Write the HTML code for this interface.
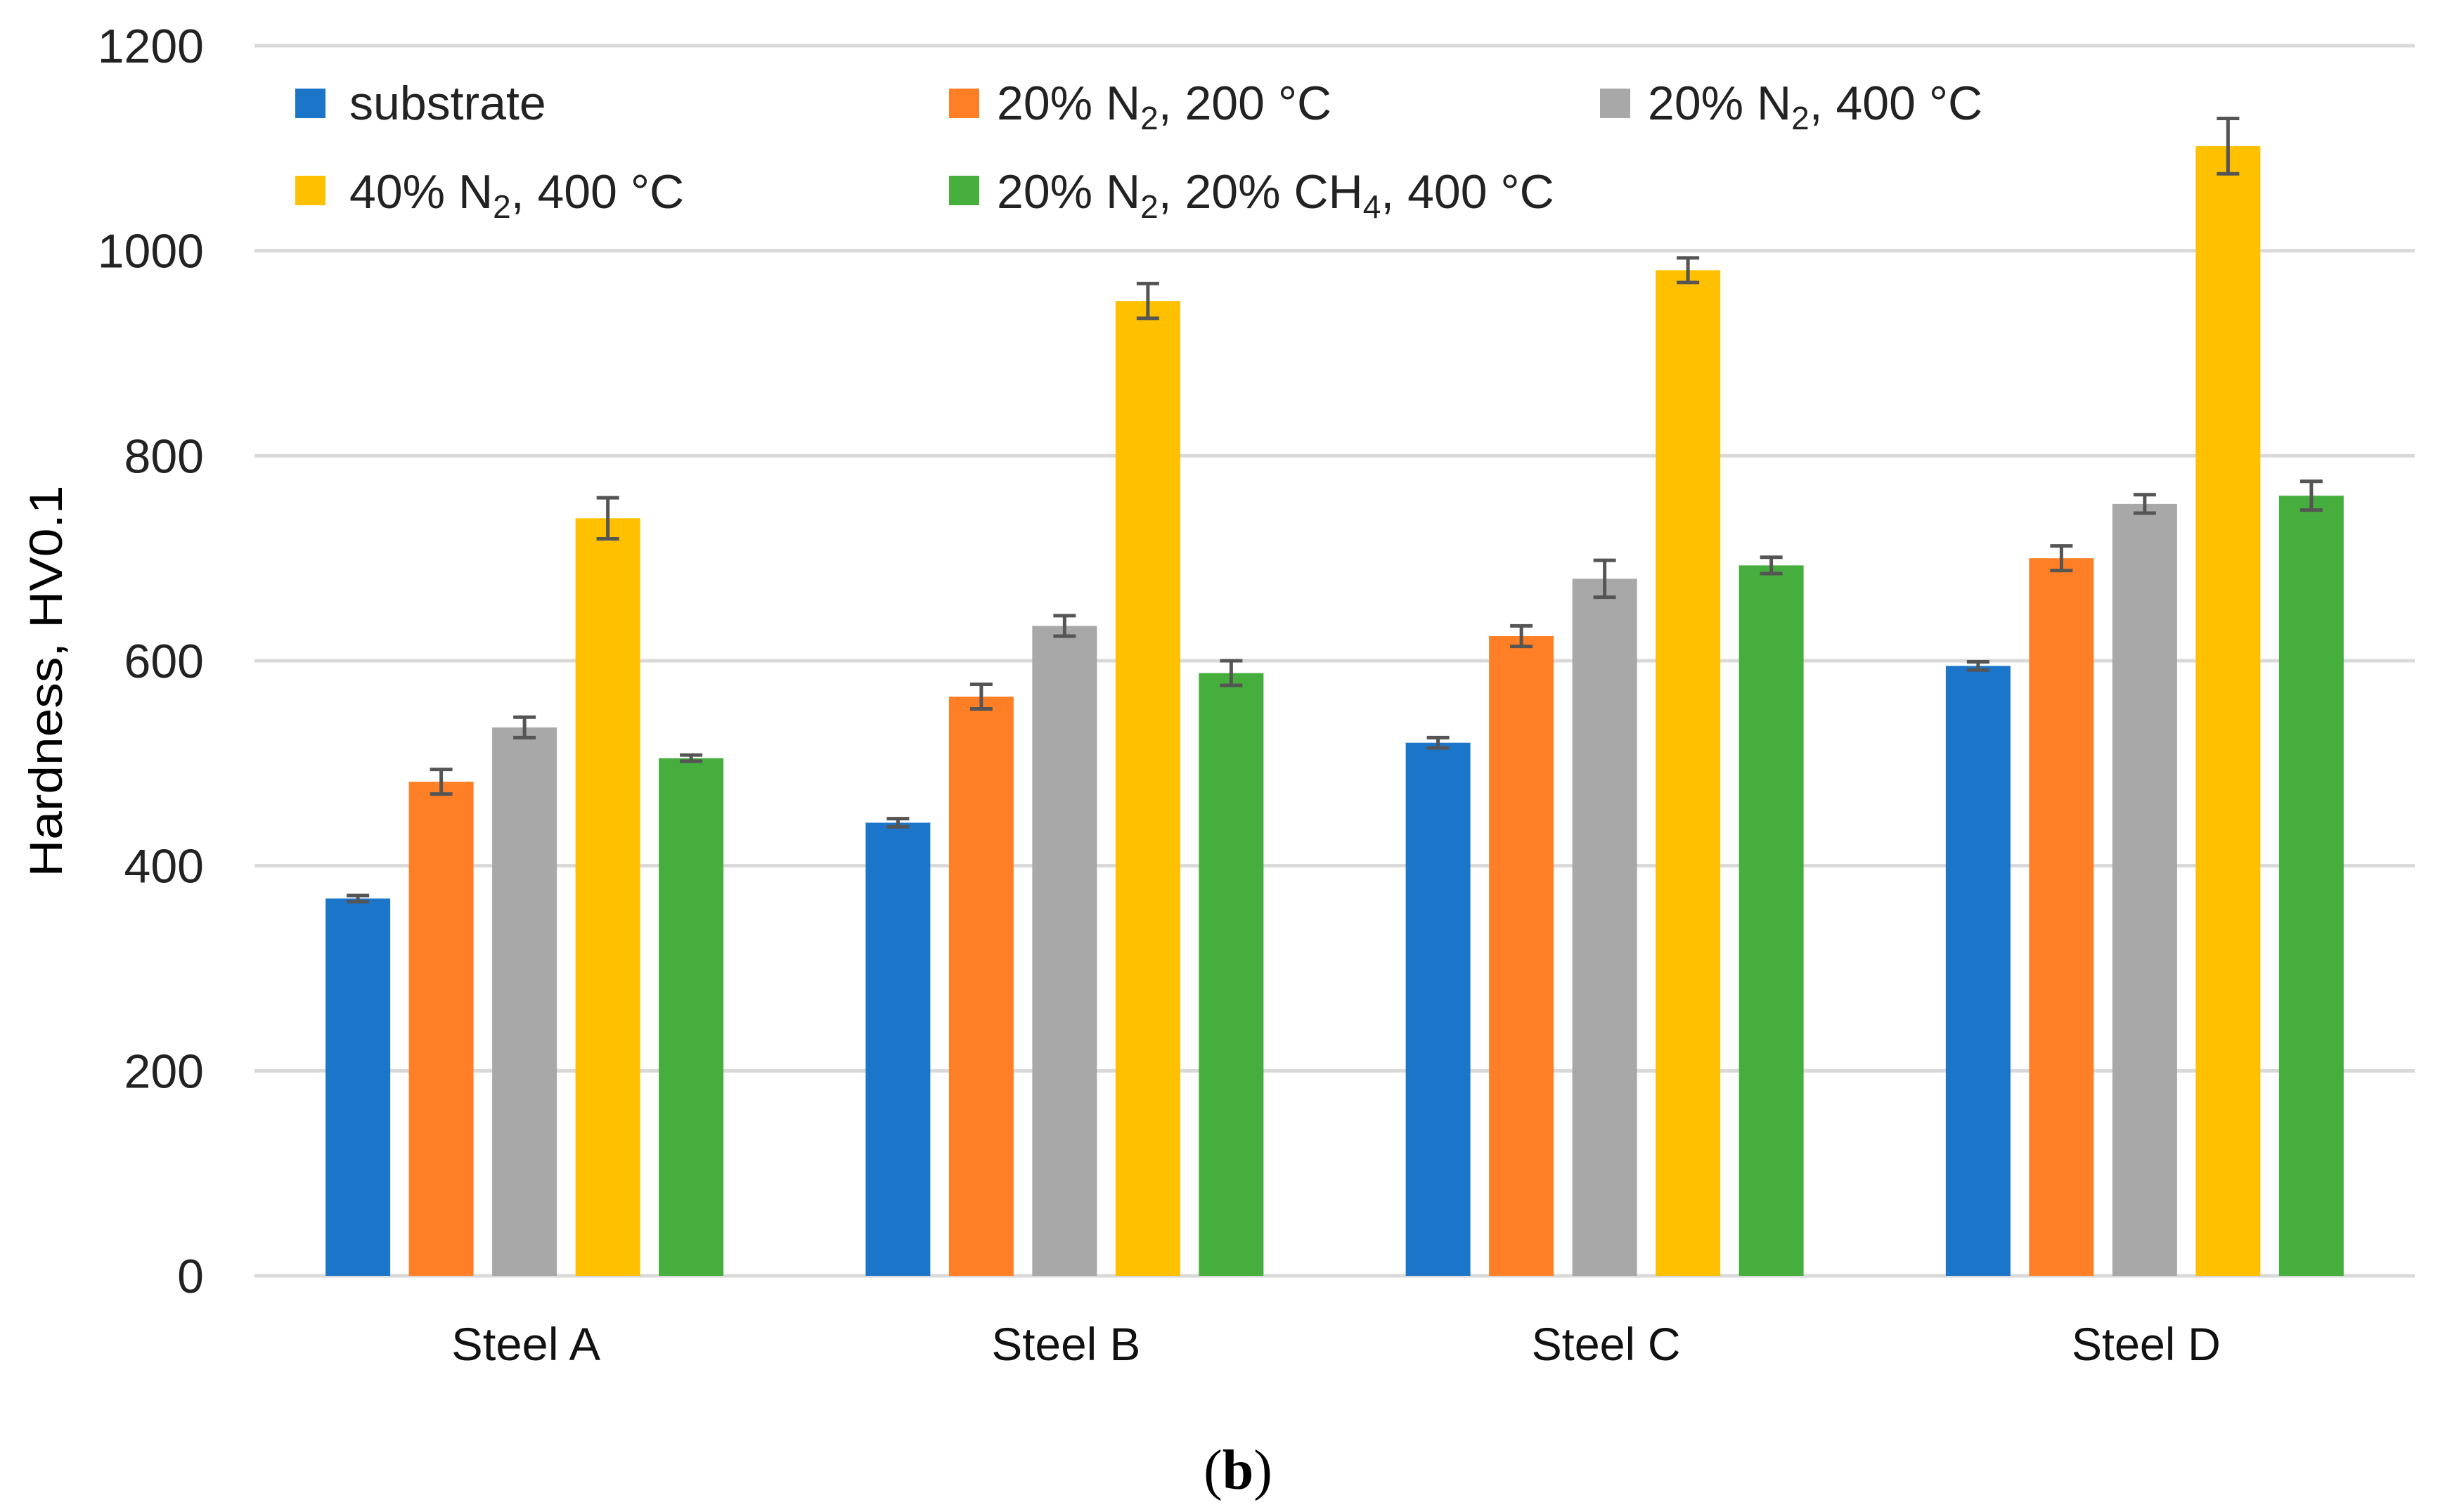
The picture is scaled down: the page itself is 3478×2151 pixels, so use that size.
<!DOCTYPE html>
<html><head><meta charset="utf-8"><style>
html,body{margin:0;padding:0;background:#fff;}
svg{display:block;font-family:"Liberation Sans",sans-serif;}
</style></head><body>
<svg id="chart" width="3478" height="2151" viewBox="0 0 3478 2151" xmlns="http://www.w3.org/2000/svg">
<g id="grid"></g>
<g id="yticks"></g>
<g id="bars"></g>
<g id="xlabels"></g>
<text transform="translate(88,969) rotate(-90)" text-anchor="middle" font-size="66" textLength="557" lengthAdjust="spacingAndGlyphs" fill="#000">Hardness, HV0.1</text>
<g font-size="68" fill="#222">
  <g><rect x="420" y="126" width="43" height="42" fill="#1b75c9"/><text x="497" y="170">substrate</text></g>
  <g><rect x="1350" y="126" width="43" height="42" fill="#ff7f27"/><text x="1418" y="170">20% N<tspan font-size="46" dy="14">2</tspan><tspan dy="-14">, 200 °C</tspan></text></g>
  <g><rect x="2276" y="126" width="43" height="42" fill="#a8a8a8"/><text x="2344" y="170">20% N<tspan font-size="46" dy="14">2</tspan><tspan dy="-14">, 400 °C</tspan></text></g>
  <g><rect x="420" y="250" width="43" height="42" fill="#ffc000"/><text x="497" y="296">40% N<tspan font-size="46" dy="14">2</tspan><tspan dy="-14">, 400 °C</tspan></text></g>
  <g><rect x="1350" y="250" width="43" height="42" fill="#46ae3c"/><text x="1418" y="296">20% N<tspan font-size="46" dy="14">2</tspan><tspan dy="-14">, 20% CH</tspan><tspan font-size="46" dy="14">4</tspan><tspan dy="-14">, 400 °C</tspan></text></g>
</g>
<text x="1761" y="2118" text-anchor="middle" font-family="Liberation Serif, serif" font-size="80" fill="#000">(<tspan font-weight="bold">b</tspan>)</text>
</svg>
<script>
const categories = ["Steel A","Steel B","Steel C","Steel D"];
const seriesNames = ["substrate","20% N2, 200 °C","20% N2, 400 °C","40% N2, 400 °C","20% N2, 20% CH4, 400 °C"];
const substrate = [368, 442, 520, 595];
const n20t200 = [482, 565, 624, 700];
const n20t400 = [535, 634, 680, 753];
const n40t400 = [739, 951, 981, 1102];
const n20ch4 = [505, 588, 693, 761];
const errSubstrate = [3, 4, 5, 4];
const errN20t200 = [12, 12, 10, 12];
const errN20t400 = [10, 10, 18, 9];
const errN40t400 = [20, 17, 12, 27];
const errN20ch4 = [3, 12, 8, 14];
const yTicks = [0, 200, 400, 600, 800, 1000, 1200];

const series = [substrate, n20t200, n20t400, n40t400, n20ch4];
const errs = [errSubstrate, errN20t200, errN20t400, errN40t400, errN20ch4];
const colors = ["#1b75c9","#ff7f27","#a8a8a8","#ffc000","#46ae3c"];
const NS = "http://www.w3.org/2000/svg";
const X0 = 362, X1 = 3435, Y0 = 1815, Y1 = 65, YMAX = 1200;
const yScale = v => Y0 - (v / YMAX) * (Y0 - Y1);
const groupW = (X1 - X0) / categories.length;
const barW = 92, step = 118.5;
const xBar = (ci, si) => X0 + groupW * ci + groupW / 2 + (si - 2) * step - barW / 2;

const grid = document.getElementById('grid');
const yt = document.getElementById('yticks');
yTicks.forEach(t => {
  const l = document.createElementNS(NS, 'line');
  
  
  l.setAttribute('x1', X0); l.setAttribute('x2', X1);
  l.setAttribute('y1', yScale(t)); l.setAttribute('y2', yScale(t));
  l.setAttribute('stroke', '#d9d9d9'); l.setAttribute('stroke-width', '5');
  grid.appendChild(l);
  const tx = document.createElementNS(NS, 'text');
  
  
  tx.setAttribute('x', 290); tx.setAttribute('y', yScale(t) + 24);
  tx.setAttribute('text-anchor', 'end'); tx.setAttribute('font-size', '68'); tx.setAttribute('fill', '#222');
  tx.textContent = t;
  yt.appendChild(tx);
});

const bars = document.getElementById('bars');
categories.forEach((c, ci) => {
  series.forEach((s, si) => {
    const v = s[ci], x = xBar(ci, si);
    const r = document.createElementNS(NS, 'rect');
    
    
    r.setAttribute('x', x); r.setAttribute('y', yScale(v));
    r.setAttribute('width', barW); r.setAttribute('height', Y0 - yScale(v));
    r.setAttribute('fill', colors[si]);
    bars.appendChild(r);
    const e = errs[si][ci], cx = x + barW / 2;
    const eb = document.createElementNS(NS, 'path');
    
    
    const yt1 = yScale(v + e), yb = yScale(v - e);
    eb.setAttribute('d', `M${cx-16},${yt1}H${cx+16}M${cx},${yt1}V${yb}M${cx-16},${yb}H${cx+16}`);
    eb.setAttribute('stroke', '#555'); eb.setAttribute('stroke-width', '5'); eb.setAttribute('fill', 'none');
    bars.appendChild(eb);
  });
  const lb = document.createElementNS(NS, 'text');
  
  
  lb.setAttribute('x', X0 + groupW * ci + groupW / 2 - 212 / 2 + 2);
  lb.setAttribute('y', 1935);
  lb.setAttribute('font-size', '66'); lb.setAttribute('fill', '#111');
  lb.setAttribute('textLength', '212'); lb.setAttribute('lengthAdjust', 'spacingAndGlyphs');
  lb.textContent = c;
  document.getElementById('xlabels').appendChild(lb);
});
</script>
</body></html>
